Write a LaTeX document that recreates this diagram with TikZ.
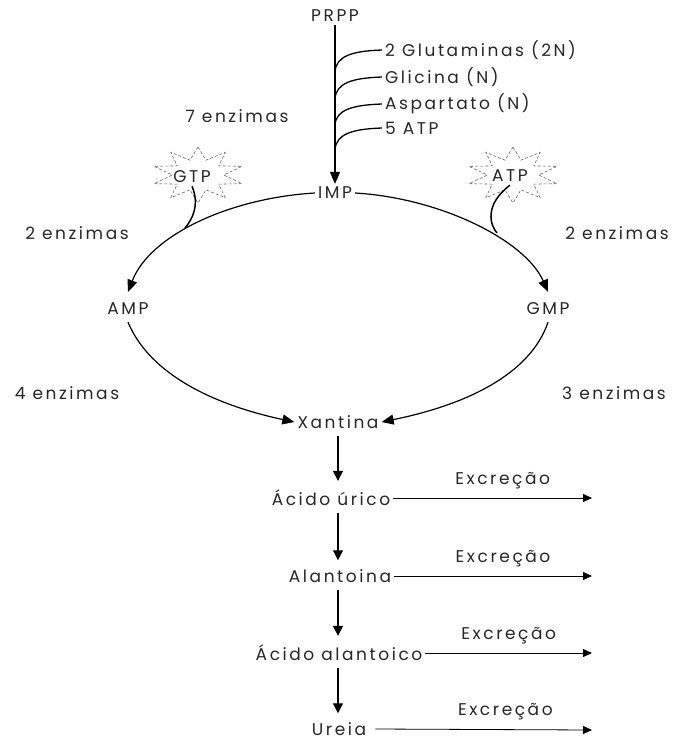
\documentclass[tikz,border=0pt]{standalone}
\usepackage{fontspec}
\setmainfont{Poppins}[LetterSpace=15]
\usetikzlibrary{shapes.geometric,arrows.meta,calc}
\begin{document}
\begin{tikzpicture}[x=1pt,y=-1pt,
  lbl/.style={font=\fontsize{17}{19}\selectfont, inner sep=3pt, text=black!85},
  flow/.style={line width=1.2pt, -{Triangle[length=12pt,width=10pt]}},
  vflow/.style={line width=1.2pt, -{Triangle[length=10pt,width=10pt]}},
  exc/.style={line width=0.8pt, -{Triangle[length=9pt,width=8pt]}},
  branch/.style={line width=1.3pt},
  burst/.style={star, star points=10, star point ratio=1.8, draw=black!60, densely dashed, line width=0.6pt, minimum size=56pt, xscale=1.65, inner sep=0pt}
]
\useasboundingbox (0,0) rectangle (675,740);

% main nodes
\node[lbl] (prpp) at (335,16) {PRPP};
\node[lbl] (imp) at (335,193) {IMP};
\node[lbl] (amp) at (128,309) {AMP};
\node[lbl] (gmp) at (548,309) {GMP};
\node[lbl] (xan) at (338,422) {Xantina};
\node[lbl] (uric) at (331,498) {Ácido úrico};
\node[lbl] (alan) at (340,576) {Alantoina};
\node[lbl] (alac) at (339,653) {Ácido alantoico};
\node[lbl] (ure) at (339,729) {Ureia};

% side labels
\node[lbl,anchor=west] (glu) at (382,50) {2 Glutaminas (2N)};
\node[lbl,anchor=west] (gli) at (382,77) {Glicina (N)};
\node[lbl,anchor=west] (asp) at (382,104) {Aspartato (N)};
\node[lbl,anchor=west] (atp5) at (382,128) {5 ATP};
\node[lbl] (e7) at (237,116) {7 enzimas};
\node[lbl] (e2l) at (77,233) {2 enzimas};
\node[lbl] (e2r) at (617,233) {2 enzimas};
\node[lbl] (e4) at (67,393) {4 enzimas};
\node[lbl] (e3) at (614,393) {3 enzimas};

% bursts
\node[burst] (gtpstar) at (198,175) {};
\node[lbl] (gtp) at (192,177) {GTP};
\node[burst] (atpstar) at (513,175) {};
\node[lbl] (atp) at (510,176) {ATP};

% main vertical arrow
\draw[flow,line width=1.5pt] (prpp.south) -- (imp.north);
\coordinate (b1) at (335,72);
\coordinate (b2) at (335,99);
\coordinate (b3) at (335,125);
\coordinate (b4) at (335,150);
\draw[branch] (b1) .. controls (336,56) and (352,51) .. (glu.west);
\draw[branch] (b2) .. controls (336,83) and (352,78) .. (gli.west);
\draw[branch] (b3) .. controls (336,110) and (352,105) .. (asp.west);
\draw[branch] (b4) .. controls (336,134) and (352,129) .. (atp5.west);

% IMP to AMP / GMP
\coordinate (m1) at (185,228);
\coordinate (m2) at (497,233);
\draw[flow] (imp.west) .. controls (230,198) and (150,235) .. ([yshift=8pt]amp.north);
\draw[flow] (imp.east) .. controls (440,198) and (525,240) .. ([yshift=8pt]gmp.north);
\draw[line width=1.5pt] (gtp.south) .. controls (200,205) and (192,220) .. (m1);
\draw[line width=1.5pt] (atp.south) .. controls (484,205) and (490,225) .. (m2);

% AMP/GMP to Xantina
\draw[flow] ([yshift=-4pt]amp.south) .. controls (150,375) and (215,405) .. (xan.west);
\draw[flow] ([yshift=-4pt]gmp.south) .. controls (530,375) and (465,405) .. (xan.east);

% vertical chain
\draw[vflow] ([yshift=-4pt]xan.south) -- ([yshift=6pt]xan.south |- uric.north);
\draw[vflow] ([yshift=-4pt]xan.south |- uric.south) -- ([yshift=6pt]xan.south |- alan.north);
\draw[vflow] ([yshift=-4pt]xan.south |- alan.south) -- ([yshift=6pt]xan.south |- alac.north);
\draw[vflow] ([yshift=-4pt]xan.south |- alac.south) -- ([yshift=6pt]xan.south |- ure.north);

% excretion
\coordinate (x1) at (592,498);
\coordinate (x2) at (592,576);
\coordinate (x3) at (592,653);
\coordinate (x4) at (592,730);
\draw[exc] (uric.east) -- node[lbl,pos=0.55,above=6pt] (ex1) {Excreção} (x1);
\draw[exc] (alan.east) -- node[lbl,pos=0.55,above=6pt] (ex2) {Excreção} (x2);
\draw[exc] (alac.east) -- node[lbl,pos=0.5,above=6pt] (ex3) {Excreção} (x3);
\draw[exc] ([xshift=6pt]ure.east) -- node[lbl,pos=0.6,above=6pt] (ex4) {Excreção} (x4);
\end{tikzpicture}
\end{document}
